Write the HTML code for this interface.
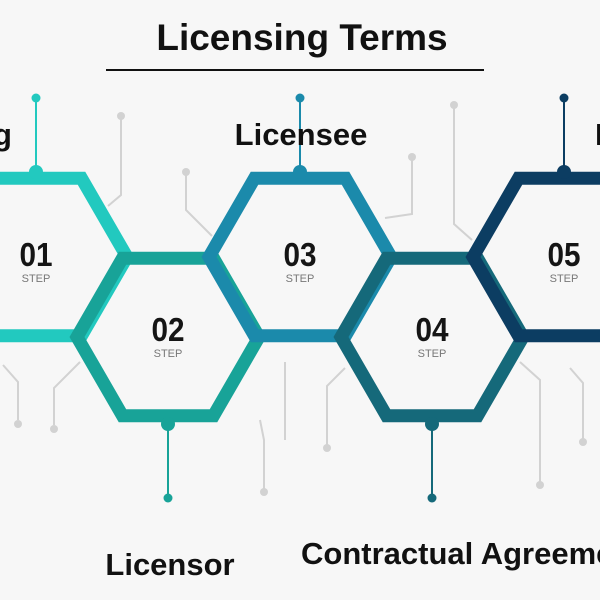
<!DOCTYPE html>
<html><head><style>
html,body{margin:0;padding:0;background:#f7f7f7;}
svg{display:block}
text{font-family:"Liberation Sans",sans-serif;}
</style></head><body>
<svg width="600" height="600" viewBox="0 0 600 600">
<rect width="600" height="600" fill="#f7f7f7"/>
<text x="302" y="50" text-anchor="middle" font-size="37" font-weight="bold" fill="#111">Licensing Terms</text>
<line x1="106" y1="70" x2="484" y2="70" stroke="#111" stroke-width="2"/>
<g stroke="#d2d2d2" stroke-width="2" fill="none">
<polyline points="121,116 121,195 108,206"/>
<polyline points="186,172 186,210 212,236"/>
<polyline points="412,157 412,214 385,218"/>
<polyline points="454,105 454,224 472,240"/>
<polyline points="3,365 18,382 18,420"/>
<polyline points="80,362 54,388 54,425"/>
<polyline points="285,362 285,440"/>
<polyline points="345,368 327,386 327,448"/>
<polyline points="520,362 540,380 540,485"/>
<polyline points="570,368 583,383 583,440"/>
<polyline points="260,420 264,440 264,490"/>
</g>
<g fill="#d2d2d2">
<circle cx="121" cy="116" r="4"/><circle cx="186" cy="172" r="4"/><circle cx="412" cy="157" r="4"/>
<circle cx="454" cy="105" r="4"/><circle cx="18" cy="424" r="4"/><circle cx="54" cy="429" r="4"/>
<circle cx="327" cy="448" r="4"/><circle cx="540" cy="485" r="4"/><circle cx="583" cy="442" r="4"/><circle cx="264" cy="492" r="4"/>
</g>
<g fill="none" stroke-width="13" stroke-linejoin="miter">
<polygon points="127,257 81.5,178.2 -9.5,178.2 -55,257 -9.5,335.8 81.5,335.8" stroke="#22c9bf"/>
<polygon points="259,337 213.5,258.2 122.5,258.2 77,337 122.5,415.8 213.5,415.8" stroke="#18a398"/>
<polygon points="391,257 345.5,178.2 254.5,178.2 209,257 254.5,335.8 345.5,335.8" stroke="#1b8aab"/>
<polygon points="523,337 477.5,258.2 386.5,258.2 341,337 386.5,415.8 477.5,415.8" stroke="#15697a"/>
<polygon points="655,257 609.5,178.2 518.5,178.2 473,257 518.5,335.8 609.5,335.8" stroke="#0c3d62"/>
</g>
<g stroke-width="2">
<line x1="36" y1="98" x2="36" y2="172" stroke="#22c9bf"/><circle cx="36" cy="98" r="4.5" fill="#22c9bf"/><circle cx="36" cy="172" r="7" fill="#22c9bf"/>
<line x1="300" y1="98" x2="300" y2="172" stroke="#1b8aab"/><circle cx="300" cy="98" r="4.5" fill="#1b8aab"/><circle cx="300" cy="172" r="7" fill="#1b8aab"/>
<line x1="564" y1="98" x2="564" y2="172" stroke="#0c3d62"/><circle cx="564" cy="98" r="4.5" fill="#0c3d62"/><circle cx="564" cy="172" r="7" fill="#0c3d62"/>
<line x1="168" y1="422" x2="168" y2="498" stroke="#18a398"/><circle cx="168" cy="498" r="4.5" fill="#18a398"/><circle cx="168" cy="424" r="7" fill="#18a398"/>
<line x1="432" y1="422" x2="432" y2="498" stroke="#15697a"/><circle cx="432" cy="498" r="4.5" fill="#15697a"/><circle cx="432" cy="424" r="7" fill="#15697a"/>
</g>
<g text-anchor="middle" fill="#151515" font-weight="bold" font-size="33">
<text x="36" y="266" transform="translate(36 0) scale(0.9 1) translate(-36 0)">01</text>
<text x="168" y="341" transform="translate(168 0) scale(0.9 1) translate(-168 0)">02</text>
<text x="300" y="266" transform="translate(300 0) scale(0.9 1) translate(-300 0)">03</text>
<text x="432" y="341" transform="translate(432 0) scale(0.9 1) translate(-432 0)">04</text>
<text x="564" y="266" transform="translate(564 0) scale(0.9 1) translate(-564 0)">05</text>
</g>
<g text-anchor="middle" fill="#777" font-size="11">
<text x="36" y="282">STEP</text><text x="168" y="357">STEP</text><text x="300" y="282">STEP</text><text x="432" y="357">STEP</text><text x="564" y="282">STEP</text>
</g>
<g font-weight="bold" font-size="31" fill="#111">
<text x="12" y="145" text-anchor="end">Licensing</text>
<text x="301" y="145" text-anchor="middle">Licensee</text>
<text x="595" y="145">License</text>
<text x="170" y="575" text-anchor="middle">Licensor</text>
<text x="301" y="564">Contractual Agreement</text>
</g>
</svg>
</body></html>
